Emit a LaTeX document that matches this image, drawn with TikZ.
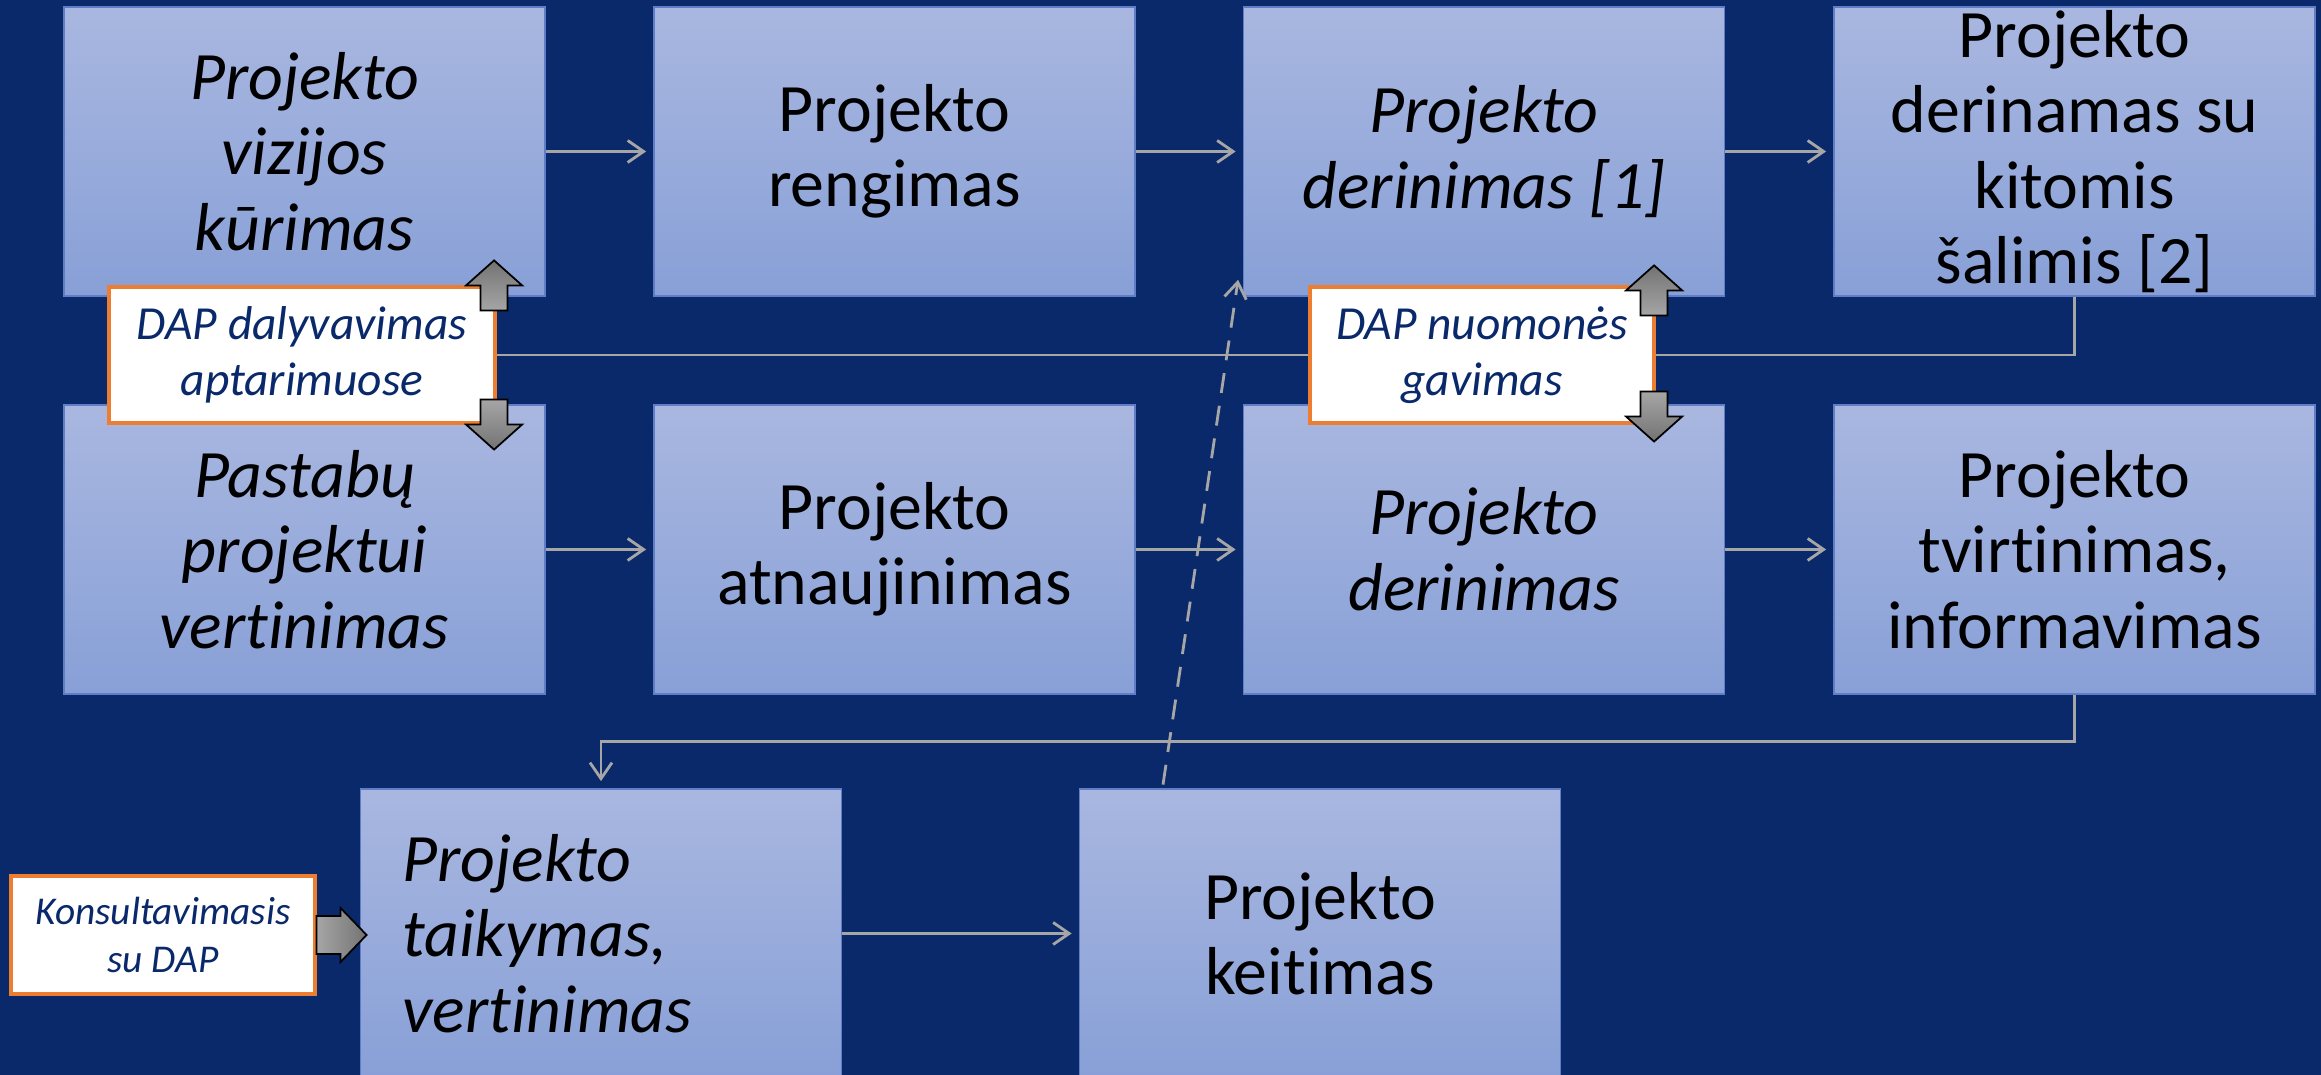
\documentclass[tikz,border=0pt]{standalone}
\usepackage{fontspec}
\setmainfont{Carlito}[Ligatures={NoCommon}]
\usetikzlibrary{arrows.meta, calc}
\definecolor{navy}{RGB}{9,41,107}
\definecolor{boxtop}{RGB}{169,183,224}
\definecolor{boxbot}{RGB}{136,160,215}
\definecolor{boxline}{RGB}{96,126,200}
\definecolor{wiregray}{RGB}{166,166,166}
\definecolor{dapline}{RGB}{237,125,49}

\begin{document}
\begin{tikzpicture}[
  stage/.style={draw=boxline, line width=0.5pt, top color=boxtop, bottom color=boxbot,
    minimum width=4.81cm, minimum height=2.89cm, inner sep=0pt, align=center,
    font=\fontsize{19.3}{21.5}\selectfont},
  ital/.style={font=\itshape\fontsize{19.3}{21.5}\selectfont},
  dap/.style={draw=dapline, line width=0.9pt, fill=white, text=navy, inner sep=0pt,
    align=center, font=\itshape\fontsize{13.5}{16}\selectfont},
  wire/.style={draw=wiregray, line width=0.8pt},
  flow/.style={wire, -{Straight Barb[length=1.6mm,width=2.2mm]}, shorten >=0.07cm},
  fat/.style={draw=black, line width=0.5pt},
  fat up/.pic={\draw[fat, bottom color=black!35, top color=black!55]
    (-0.135,0) -- (-0.135,0.25) -- (-0.28,0.25) -- (0,0.5) -- (0.28,0.25) -- (0.135,0.25) -- (0.135,0) -- cycle;},
  fat down/.pic={\draw[fat, top color=black!35, bottom color=black!55]
    (-0.135,0) -- (-0.135,-0.25) -- (-0.28,-0.25) -- (0,-0.5) -- (0.28,-0.25) -- (0.135,-0.25) -- (0.135,0) -- cycle;},
  fat right/.pic={\draw[fat, left color=black!35, right color=black!55]
    (0,0.19) -- (0.24,0.19) -- (0.24,0.27) -- (0.5,0) -- (0.24,-0.27) -- (0.24,-0.19) -- (0,-0.19) -- cycle;}
]
  \fill[navy] (0,0) rectangle (23.21,10.75);
  \useasboundingbox (0,0) rectangle (23.21,10.75);

  % first row
  \node[stage, ital] (vizija)   at ( 3.045,9.235) {Projekto\\vizijos\\kūrimas};
  \node[stage]       (rengimas) at ( 8.945,9.235) {Projekto\\rengimas};
  \node[stage, ital] (derin)    at (14.84 ,9.235) {Projekto\\derinimas [1]};
  \node[stage]       (derkit)   at (20.745,9.235) {Projekto\\derinamas su\\kitomis\\šalimis [2]};
  % second row
  \node[stage, ital] (pastabos) at ( 3.045,5.255) {Pastabų\\projektui\\vertinimas};
  \node[stage]       (atnauj)   at ( 8.945,5.255) {Projekto\\atnaujinimas};
  \node[stage, ital] (derin2)   at (14.84 ,5.255) {Projekto\\derinimas};
  \node[stage]       (tvirt)    at (20.745,5.255) {Projekto\\tvirtinimas,\\informavimas};
  % third row
  \node[stage, ital, text width=3.97cm, align=left] (taik) at (6.01,1.415) {Projekto\\taikymas,\\vertinimas};
  \node[stage]       (keit)     at (13.20,1.415) {Projekto\\keitimas};
  \node[dap, minimum width=3.04cm, minimum height=1.18cm, font=\itshape\fontsize{11.2}{13.7}\selectfont]
    (konsult) at (1.63,1.40) {Konsultavimasis\\su DAP};

  \foreach \a/\b in {vizija/rengimas, rengimas/derin, derin/derkit,
                     pastabos/atnauj, atnauj/derin2, derin2/tvirt, taik/keit}
    \draw[flow] (\a) -- (\b);
  \draw[flow] (tvirt.south) -- ++(0,-0.47) -| (taik.north);
  \draw[flow, dash pattern=on 2mm off 1.3mm]
    ($(keit.north)+(-1.57,0.035)$) -- ($(derin.south west)+(-0.035,0.24)$);

  \node[dap, minimum width=3.86cm, minimum height=1.36cm] (dapdal) at (3.02,7.20) {DAP dalyvavimas\\aptarimuose};
  \draw[wire] (derkit.south) |- (dapdal.east);
  \node[dap, minimum width=3.44cm, minimum height=1.36cm] (dapnuom) at (14.82,7.20) {DAP nuomonės\\gavimas};

  \pic at ($(dapdal.north east)+(-0.025,-0.25)$) {fat up};
  \pic at ($(dapdal.south east)+(-0.025,0.25)$) {fat down};
  \pic at ($(dapnuom.north east)+(-0.015,-0.30)$) {fat up};
  \pic at ($(dapnuom.south east)+(-0.015,0.33)$) {fat down};
  \pic at (konsult.east) {fat right};
\end{tikzpicture}
\end{document}
